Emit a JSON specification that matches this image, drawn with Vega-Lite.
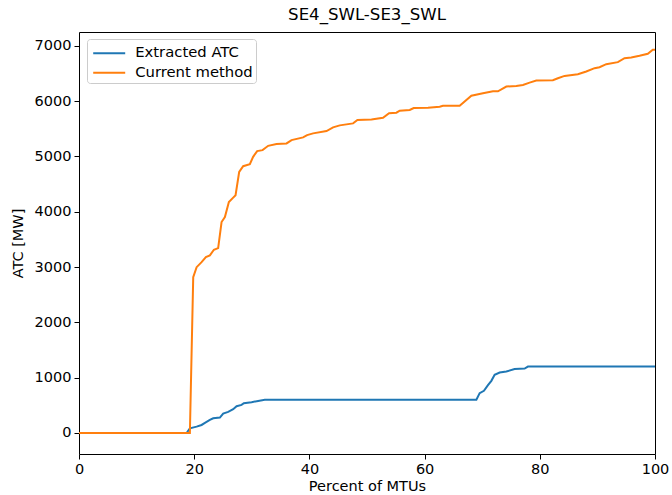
{
  "$schema": "https://vega.github.io/schema/vega-lite/v6.json",
  "width": 576,
  "height": 422,
  "autosize": {"type": "none"},
  "padding": {"left": 79, "top": 32, "right": 17, "bottom": 41},
  "background": "white",
  "config": {
    "font": "DejaVu Sans",
    "view": {"stroke": "black", "strokeWidth": 1},
    "axis": {
      "grid": false,
      "domain": false,
      "tickColor": "black",
      "tickSize": 5,
      "labelFontSize": 14.5,
      "labelColor": "black",
      "labelFlush": false,
      "titleFontSize": 14.5,
      "titleFontWeight": "normal",
      "titleColor": "black"
    }
  },
  "title": {"text": "SE4_SWL-SE3_SWL", "fontSize": 16.6, "fontWeight": "normal", "offset": 8, "color": "black"},
  "datasets": {
    "atc": [
      {"pct": 0, "mw": 0, "series": "Extracted ATC"},
      {"pct": 18.68, "mw": 0, "series": "Extracted ATC"},
      {"pct": 19.25, "mw": 85, "series": "Extracted ATC"},
      {"pct": 20.42, "mw": 115, "series": "Extracted ATC"},
      {"pct": 21.28, "mw": 145, "series": "Extracted ATC"},
      {"pct": 21.86, "mw": 181, "series": "Extracted ATC"},
      {"pct": 22.72, "mw": 236, "series": "Extracted ATC"},
      {"pct": 23.30, "mw": 266, "series": "Extracted ATC"},
      {"pct": 24.46, "mw": 278, "series": "Extracted ATC"},
      {"pct": 25.03, "mw": 350, "series": "Extracted ATC"},
      {"pct": 25.90, "mw": 381, "series": "Extracted ATC"},
      {"pct": 26.77, "mw": 429, "series": "Extracted ATC"},
      {"pct": 27.36, "mw": 484, "series": "Extracted ATC"},
      {"pct": 28.22, "mw": 508, "series": "Extracted ATC"},
      {"pct": 28.62, "mw": 538, "series": "Extracted ATC"},
      {"pct": 29.96, "mw": 556, "series": "Extracted ATC"},
      {"pct": 31.10, "mw": 580, "series": "Extracted ATC"},
      {"pct": 32.26, "mw": 600, "series": "Extracted ATC"},
      {"pct": 68.99, "mw": 600, "series": "Extracted ATC"},
      {"pct": 69.56, "mw": 720, "series": "Extracted ATC"},
      {"pct": 70.30, "mw": 762, "series": "Extracted ATC"},
      {"pct": 71.00, "mw": 865, "series": "Extracted ATC"},
      {"pct": 71.59, "mw": 943, "series": "Extracted ATC"},
      {"pct": 72.16, "mw": 1052, "series": "Extracted ATC"},
      {"pct": 73.03, "mw": 1094, "series": "Extracted ATC"},
      {"pct": 74.19, "mw": 1112, "series": "Extracted ATC"},
      {"pct": 75.63, "mw": 1155, "series": "Extracted ATC"},
      {"pct": 77.37, "mw": 1166, "series": "Extracted ATC"},
      {"pct": 77.94, "mw": 1200, "series": "Extracted ATC"},
      {"pct": 100, "mw": 1200, "series": "Extracted ATC"}
    ],
    "cur": [
      {"pct": 0, "mw": 0, "series": "Current method"},
      {"pct": 19.25, "mw": 0, "series": "Current method"},
      {"pct": 19.83, "mw": 2817, "series": "Current method"},
      {"pct": 20.42, "mw": 2998, "series": "Current method"},
      {"pct": 21.28, "mw": 3089, "series": "Current method"},
      {"pct": 22.03, "mw": 3180, "series": "Current method"},
      {"pct": 22.72, "mw": 3210, "series": "Current method"},
      {"pct": 23.42, "mw": 3313, "series": "Current method"},
      {"pct": 24.16, "mw": 3343, "series": "Current method"},
      {"pct": 24.75, "mw": 3814, "series": "Current method"},
      {"pct": 25.33, "mw": 3905, "series": "Current method"},
      {"pct": 26.02, "mw": 4177, "series": "Current method"},
      {"pct": 26.77, "mw": 4256, "series": "Current method"},
      {"pct": 27.18, "mw": 4298, "series": "Current method"},
      {"pct": 27.81, "mw": 4721, "series": "Current method"},
      {"pct": 28.50, "mw": 4824, "series": "Current method"},
      {"pct": 29.66, "mw": 4860, "series": "Current method"},
      {"pct": 30.23, "mw": 4993, "series": "Current method"},
      {"pct": 30.93, "mw": 5096, "series": "Current method"},
      {"pct": 31.87, "mw": 5114, "series": "Current method"},
      {"pct": 32.84, "mw": 5192, "series": "Current method"},
      {"pct": 34.29, "mw": 5223, "series": "Current method"},
      {"pct": 36.03, "mw": 5235, "series": "Current method"},
      {"pct": 36.90, "mw": 5296, "series": "Current method"},
      {"pct": 38.91, "mw": 5344, "series": "Current method"},
      {"pct": 39.60, "mw": 5386, "series": "Current method"},
      {"pct": 40.64, "mw": 5417, "series": "Current method"},
      {"pct": 42.97, "mw": 5459, "series": "Current method"},
      {"pct": 44.11, "mw": 5526, "series": "Current method"},
      {"pct": 45.27, "mw": 5562, "series": "Current method"},
      {"pct": 47.58, "mw": 5598, "series": "Current method"},
      {"pct": 48.34, "mw": 5658, "series": "Current method"},
      {"pct": 50.77, "mw": 5670, "series": "Current method"},
      {"pct": 52.78, "mw": 5700, "series": "Current method"},
      {"pct": 53.83, "mw": 5780, "series": "Current method"},
      {"pct": 55.11, "mw": 5791, "series": "Current method"},
      {"pct": 55.68, "mw": 5827, "series": "Current method"},
      {"pct": 57.42, "mw": 5840, "series": "Current method"},
      {"pct": 58.11, "mw": 5876, "series": "Current method"},
      {"pct": 60.59, "mw": 5882, "series": "Current method"},
      {"pct": 62.62, "mw": 5900, "series": "Current method"},
      {"pct": 63.19, "mw": 5918, "series": "Current method"},
      {"pct": 66.09, "mw": 5918, "series": "Current method"},
      {"pct": 68.12, "mw": 6099, "series": "Current method"},
      {"pct": 70.13, "mw": 6142, "series": "Current method"},
      {"pct": 71.87, "mw": 6178, "series": "Current method"},
      {"pct": 72.73, "mw": 6178, "series": "Current method"},
      {"pct": 74.19, "mw": 6263, "series": "Current method"},
      {"pct": 75.92, "mw": 6275, "series": "Current method"},
      {"pct": 77.07, "mw": 6293, "series": "Current method"},
      {"pct": 78.23, "mw": 6335, "series": "Current method"},
      {"pct": 79.39, "mw": 6371, "series": "Current method"},
      {"pct": 82.27, "mw": 6378, "series": "Current method"},
      {"pct": 83.14, "mw": 6414, "series": "Current method"},
      {"pct": 84.30, "mw": 6456, "series": "Current method"},
      {"pct": 86.61, "mw": 6487, "series": "Current method"},
      {"pct": 88.07, "mw": 6535, "series": "Current method"},
      {"pct": 89.51, "mw": 6596, "series": "Current method"},
      {"pct": 90.37, "mw": 6614, "series": "Current method"},
      {"pct": 91.54, "mw": 6668, "series": "Current method"},
      {"pct": 93.55, "mw": 6705, "series": "Current method"},
      {"pct": 94.71, "mw": 6777, "series": "Current method"},
      {"pct": 95.87, "mw": 6789, "series": "Current method"},
      {"pct": 97.31, "mw": 6819, "series": "Current method"},
      {"pct": 98.75, "mw": 6855, "series": "Current method"},
      {"pct": 99.62, "mw": 6928, "series": "Current method"},
      {"pct": 100, "mw": 6930, "series": "Current method"}
    ]
  },
  "encoding": {
    "x": {
      "field": "pct", "type": "quantitative",
      "scale": {"domain": [0, 100], "nice": false, "zero": false},
      "axis": {"values": [0, 20, 40, 60, 80, 100], "format": "d", "title": "Percent of MTUs", "titlePadding": 4, "labelPadding": 3}
    },
    "y": {
      "field": "mw", "type": "quantitative",
      "scale": {"domain": [-380, 7250], "nice": false, "zero": false},
      "axis": {"values": [0, 1000, 2000, 3000, 4000, 5000, 6000, 7000], "format": "d", "title": "ATC [MW]", "titlePadding": 9, "labelPadding": 3}
    },
    "color": {
      "field": "series", "type": "nominal",
      "scale": {"domain": ["Extracted ATC", "Current method"], "range": ["#1f77b4", "#ff7f0e"]},
      "legend": {
        "title": null,
        "orient": "none",
        "legendX": 8,
        "legendY": 7,
        "direction": "vertical",
        "symbolType": "M-1.6,0H1.6",
        "symbolStrokeWidth": 2,
        "symbolFillColor": "transparent",
        "symbolSize": 400,
        "symbolOffset": 8,
        "labelFontSize": 14.8,
        "labelColor": "black",
        "labelOffset": 15,
        "rowPadding": 1.6,
        "padding": 3.2,
        "strokeColor": "#cccccc",
        "fillColor": "rgba(255,255,255,0.8)",
        "cornerRadius": 3
      }
    }
  },
  "layer": [
    {"data": {"name": "atc"}, "mark": {"type": "line", "strokeWidth": 2, "clip": true}},
    {"data": {"name": "cur"}, "mark": {"type": "line", "strokeWidth": 2, "clip": true}}
  ]
}
